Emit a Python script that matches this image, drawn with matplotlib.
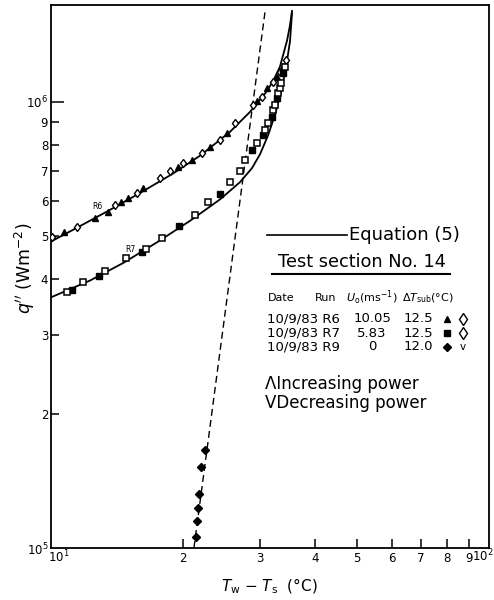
import matplotlib
matplotlib.use("Agg")
import matplotlib.pyplot as plt
from matplotlib.lines import Line2D
from matplotlib.ticker import FixedLocator, NullLocator

plt.rcParams['font.family'] = ['DejaVu Sans']
plt.rcParams['mathtext.fontset'] = 'dejavusans'

# ---------------- data ----------------
# Run R6 (U0 = 10.05 m/s)
r6_inc_x = [10.71, 12.60, 13.49, 14.45, 14.99, 16.22, 19.50, 20.98, 23.07, 25.22, 29.53, 31.12, 32.81, 33.86]
r6_inc_y = [5.098e5, 5.507e5, 5.681e5, 5.980e5, 6.105e5, 6.427e5, 7.161e5, 7.425e5, 7.939e5, 8.533e5,
            1.006e6, 1.076e6, 1.139e6, 1.205e6]
r6_dec_x = [10.05, 11.46, 14.00, 15.72, 17.74, 18.70, 20.01, 22.11, 24.31, 26.31, 28.92, 30.31, 32.14, 33.33, 34.40]
r6_dec_y = [4.993e5, 5.258e5, 5.888e5, 6.264e5, 6.767e5, 7.016e5, 7.311e5, 7.698e5, 8.230e5, 8.986e5,
            9.856e5, 1.027e6, 1.110e6, 1.168e6, 1.243e6]
# Run R7 (U0 = 5.83 m/s)
r7_inc_x = [11.17, 12.87, 16.13, 19.60, 24.31, 28.77, 30.48, 31.96, 32.81, 33.86]
r7_inc_y = [3.781e5, 4.064e5, 4.599e5, 5.284e5, 6.231e5, 7.817e5, 8.444e5, 9.267e5, 1.022e6, 1.162e6]
r7_dec_x = [10.88, 11.83, 13.28, 14.83, 16.48, 17.92, 21.32, 22.83, 25.63, 27.01, 27.73, 29.53, 30.80,
            31.29, 32.14, 32.47, 32.98, 33.33, 33.50, 34.21]
r7_dec_y = [3.743e5, 3.940e5, 4.170e5, 4.459e5, 4.671e5, 4.943e5, 5.594e5, 5.980e5, 6.630e5, 7.016e5,
            7.425e5, 8.104e5, 8.665e5, 8.986e5, 9.607e5, 9.856e5, 1.048e6, 1.076e6, 1.104e6, 1.199e6]
# Run R9 (U0 = 0, pool boiling)
r9_x = [22.47, 21.97, 21.77, 21.69, 21.51, 21.40]
r9_y = [1.658e5, 1.518e5, 1.322e5, 1.230e5, 1.151e5, 1.059e5]

# Equation (5) curves
eq_r6_x = [10.0, 11.23, 13.42, 15.97, 18.99, 21.89, 25.63, 28.47, 30.80, 32.14, 33.33, 34.58, 35.10, 35.50]
eq_r6_y = [4.866e5, 5.169e5, 5.681e5, 6.252e5, 6.911e5, 7.579e5, 8.573e5, 9.504e5, 1.044e6, 1.113e6,
           1.201e6, 1.372e6, 1.48e6, 1.60e6]
eq_r7_x = [10.0, 12.27, 14.60, 17.46, 20.77, 24.31, 27.01, 28.77, 30.00, 31.29, 32.47, 33.50, 34.40,
           35.13, 35.50]
eq_r7_y = [3.648e5, 3.977e5, 4.353e5, 4.846e5, 5.415e5, 6.047e5, 6.612e5, 7.109e5, 7.632e5, 8.409e5,
           9.365e5, 1.051e6, 1.195e6, 1.369e6, 1.583e6]
# pool-boiling fit (dashed)
pool_x = [21.2, 30.8]
pool_y = [1.0e5, 1.591e6]

x_ticks = [20, 30, 40, 50, 60, 70, 80, 90]
x_ticklabels = ['2', '3', '4', '5', '6', '7', '8', '9']
y_ticks = [1e5, 2e5, 3e5, 4e5, 5e5, 6e5, 7e5, 8e5, 9e5, 1e6]
y_ticklabels = ['$10^5$', '2', '3', '4', '5', '6', '7', '8', '9', '$10^6$']

table_rows = [
    ('10/9/83 R6', '10.05', '12.5'),
    ('10/9/83 R7', '5.83', '12.5'),
    ('10/9/83 R9', '0', '12.0'),
]

# ---------------- figure ----------------
W, H = 494, 600
fig = plt.figure(figsize=(W / 100, H / 100), dpi=100)
ax = fig.add_axes([51 / W, 52 / H, 438 / W, 543 / H])
ax.set_xscale('log')
ax.set_yscale('log')
ax.set_xlim(10, 100)
ax.set_ylim(1e5, 1.65e6)

for s in ax.spines.values():
    s.set_linewidth(1.3)

ax.xaxis.set_major_locator(FixedLocator(x_ticks))
ax.xaxis.set_minor_locator(NullLocator())
ax.set_xticklabels(x_ticklabels)
ax.yaxis.set_major_locator(FixedLocator(y_ticks))
ax.yaxis.set_minor_locator(NullLocator())
ax.set_yticklabels(y_ticklabels)
ax.tick_params(axis='x', direction='in', length=6.5, width=1.1, pad=3, labelsize=8.5)
ax.tick_params(axis='y', direction='in', length=5.8, width=1.1, pad=2, labelsize=8.5)
yt = ax.yaxis.get_major_ticks()
yt[-1].tick1line.set_markersize(9.5)
yt[0].tick1line.set_markersize(0)

# curves
ax.plot(eq_r6_x, eq_r6_y, color='black', lw=1.3, zorder=2)
ax.plot(eq_r7_x, eq_r7_y, color='black', lw=1.3, zorder=2)
ax.plot(pool_x, pool_y, color='black', lw=1.0, ls=(0, (5, 3)), zorder=2)

# data points
ax.plot(r6_inc_x, r6_inc_y, ls='none', marker='^', ms=4, mfc='black', mec='black', zorder=3)
ax.plot(r6_dec_x, r6_dec_y, ls='none', marker='d', ms=4.5, mfc='white', mec='black', mew=1.0, zorder=3)
ax.plot(r7_inc_x, r7_inc_y, ls='none', marker='s', ms=4, mfc='black', mec='black', zorder=3)
ax.plot(r7_dec_x, r7_dec_y, ls='none', marker='s', ms=4.5, mfc='white', mec='black', mew=1.1, zorder=3)
ax.plot(r9_x, r9_y, ls='none', marker='D', ms=4, mfc='black', mec='black', zorder=3)

ax.text(12.73, 5.83e5, 'R6', fontsize=5.5, ha='center', va='center')
ax.text(15.15, 4.67e5, 'R7', fontsize=5.5, ha='center', va='center')


def P(x, y):
    return (x / W, 1 - y / H)


# corner labels
fig.text(*P(59, 557), '$10^1$', fontsize=8.5, ha='center', va='center')
fig.text(*P(494, 556), '$10^2$', fontsize=8.5, ha='right', va='center')

# axis labels
fig.text(*P(269, 586), r'$T_{\rm w}$ $-$ $T_{\rm s}$  (°C)', fontsize=11, ha='center', va='center')
fig.text(*P(25, 268), r"$q''$ (Wm$^{-2}$)", fontsize=12.5, ha='center', va='center', rotation=90)

# legend / annotation block
fig.add_artist(Line2D([267 / W, 347 / W], [1 - 235 / H, 1 - 235 / H], color='black', lw=1.2,
                      transform=fig.transFigure))
fig.text(*P(349, 235), 'Equation (5)', fontsize=13, ha='left', va='center')
fig.text(*P(278, 262), 'Test section No. 14', fontsize=12.8, ha='left', va='center')
fig.add_artist(Line2D([272 / W, 450 / W], [1 - 274 / H, 1 - 274 / H], color='black', lw=1.5,
                      transform=fig.transFigure))

fig.text(*P(268, 298), 'Date', fontsize=8, ha='left', va='center')
fig.text(*P(315, 298), 'Run', fontsize=8, ha='left', va='center')
fig.text(*P(346, 298), r'$U_{\rm o}$(ms$^{-1}$)', fontsize=8, ha='left', va='center')
fig.text(*P(402, 298), r'$\Delta T_{\rm sub}$(°C)', fontsize=8, ha='left', va='center')

row_y = [319, 333, 347]
for (dr, u, dt), yy in zip(table_rows, row_y):
    fig.text(*P(267, yy), dr, fontsize=9.5, ha='left', va='center')
    fig.text(*P(372, yy), u, fontsize=9.5, ha='center', va='center')
    fig.text(*P(404, yy), dt, fontsize=9.5, ha='left', va='center')

sym_x1, sym_x2 = 447 / W, 463 / W
fig.add_artist(Line2D([sym_x1], [1 - 319 / H], ls='none', marker='^', ms=5, mfc='black', mec='black',
                      transform=fig.transFigure))
fig.add_artist(Line2D([sym_x2], [1 - 319 / H], ls='none', marker='d', ms=6, mfc='white', mec='black',
                      transform=fig.transFigure))
fig.add_artist(Line2D([sym_x1], [1 - 333 / H], ls='none', marker='s', ms=5, mfc='black', mec='black',
                      transform=fig.transFigure))
fig.add_artist(Line2D([sym_x2], [1 - 333 / H], ls='none', marker='d', ms=6, mfc='white', mec='black',
                      transform=fig.transFigure))
fig.add_artist(Line2D([sym_x1], [1 - 347 / H], ls='none', marker='D', ms=4, mfc='black', mec='black',
                      transform=fig.transFigure))
fig.text(sym_x2, 1 - 347 / H, 'v', fontsize=7.5, ha='center', va='center')

fig.text(*P(265, 384), 'ΛIncreasing power', fontsize=12, ha='left', va='center')
fig.text(*P(265, 403), 'VDecreasing power', fontsize=12, ha='left', va='center')

fig.savefig('out.png', dpi=100)
